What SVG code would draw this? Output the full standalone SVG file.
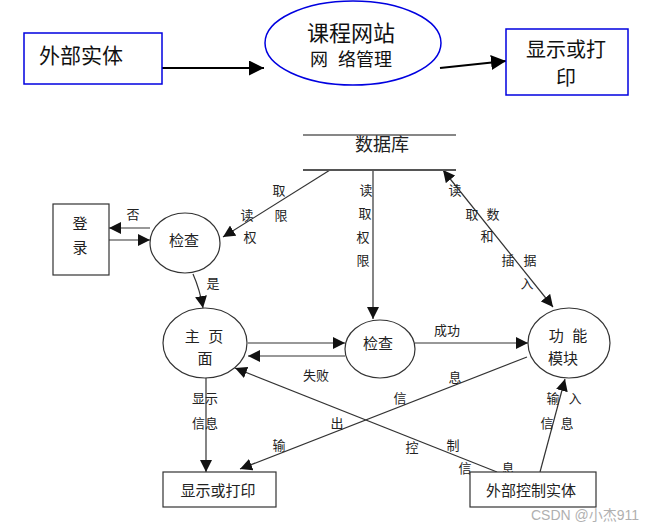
<svg xmlns="http://www.w3.org/2000/svg" width="656" height="532" viewBox="0 0 656 532">
<style>
text{font-family:"Liberation Sans","Noto Sans CJK SC",sans-serif;fill:#222;text-anchor:middle;dominant-baseline:central}
.top{font-size:20px;fill:#111}
.lbl{font-size:13px}
.nd{font-size:15px}
.bx{fill:#fff;stroke:#0000e0;stroke-width:1.5}
.n{fill:#fff;stroke:#333;stroke-width:1.2}
.c{fill:none;stroke:#333;stroke-width:1.2}
.ct{fill:none;stroke:#000;stroke-width:2}
</style>
<defs>
<marker id="ah" viewBox="0 0 10 10" refX="10" refY="5" markerWidth="12" markerHeight="12" markerUnits="userSpaceOnUse" orient="auto-start-reverse"><path d="M0,0L10,5L0,10z" fill="#111"/></marker>
<marker id="ahb" viewBox="0 0 10 10" refX="10" refY="5" markerWidth="15" markerHeight="15" markerUnits="userSpaceOnUse" orient="auto-start-reverse"><path d="M0,0L10,5L0,10z" fill="#000"/></marker>
</defs>
<rect width="656" height="532" fill="#fff"/>
<g id="connectors">
<line class="ct" x1="162" y1="68" x2="264" y2="68" marker-end="url(#ahb)"/>
<line class="ct" x1="440" y1="68" x2="506" y2="61" marker-end="url(#ahb)"/>
<line class="c" x1="150" y1="228" x2="109" y2="228" marker-end="url(#ah)"/>
<line class="c" x1="109" y1="240" x2="150" y2="240" marker-end="url(#ah)"/>
<line class="c" x1="330" y1="170" x2="223" y2="237" marker-end="url(#ah)"/>
<path class="c" d="M193,274 Q200,290 203,308" marker-end="url(#ah)"/>
<line class="c" x1="373" y1="170" x2="373" y2="319" marker-end="url(#ah)"/>
<line class="c" x1="443" y1="170" x2="553" y2="307" marker-start="url(#ah)" marker-end="url(#ah)"/>
<line class="c" x1="248" y1="343" x2="345" y2="343" marker-end="url(#ah)"/>
<line class="c" x1="345" y1="356" x2="248" y2="356" marker-end="url(#ah)"/>
<line class="c" x1="415" y1="343" x2="528" y2="343" marker-end="url(#ah)"/>
<line class="c" x1="206" y1="378" x2="206" y2="472" marker-end="url(#ah)"/>
<line class="c" x1="527" y1="357" x2="240" y2="469" marker-end="url(#ah)"/>
<line class="c" x1="497" y1="472" x2="235" y2="368" marker-end="url(#ah)"/>
<line class="c" x1="540" y1="472" x2="565" y2="379" marker-end="url(#ah)"/>
<text class="lbl" x="133" y="214">否</text>
<text class="lbl" x="279" y="190">取</text>
<text class="lbl" x="247" y="215">读</text>
<text class="lbl" x="281" y="215">限</text>
<text class="lbl" x="250" y="237">权</text>
<text class="lbl" x="213" y="283">是</text>
<text class="lbl" x="366" y="190">读</text>
<text class="lbl" x="365" y="213">取</text>
<text class="lbl" x="363" y="237">权</text>
<text class="lbl" x="363" y="260">限</text>
<text class="lbl" x="455" y="190">读</text>
<text class="lbl" x="472" y="214">取</text>
<text class="lbl" x="493" y="214">数</text>
<text class="lbl" x="487" y="236">和</text>
<text class="lbl" x="508" y="260">插</text>
<text class="lbl" x="530" y="260">据</text>
<text class="lbl" x="527" y="283">入</text>
<text class="lbl" x="447" y="330">成功</text>
<text class="lbl" x="316" y="375">失败</text>
<text class="lbl" x="205" y="398">显示</text>
<text class="lbl" x="205" y="423">信息</text>
<text class="lbl" x="455" y="377">息</text>
<text class="lbl" x="400" y="398">信</text>
<text class="lbl" x="337" y="423">出</text>
<text class="lbl" x="279" y="445">输</text>
<text class="lbl" x="412" y="447">控</text>
<text class="lbl" x="453" y="445">制</text>
<text class="lbl" x="465" y="468">信</text>
<text class="lbl" x="508" y="468">息</text>
<text class="lbl" x="553" y="398">输</text>
<text class="lbl" x="575" y="398">入</text>
<text class="lbl" x="547" y="423">信</text>
<text class="lbl" x="567" y="423">息</text>
</g>
<g id="ext-entity">
<rect class="bx" x="24" y="33" width="138" height="51"/>
<text class="top" x="81" y="55" style="font-size:21px">外部实体</text>
</g>
<g id="course-site">
<ellipse cx="353" cy="43" rx="88" ry="42" fill="#fff" stroke="#0000e0" stroke-width="1.5"/>
<text class="top" x="351" y="33" style="font-size:22px">课程网站</text>
<text class="top" x="351" y="60" style="font-size:18px" xml:space="preserve">网  络管理</text>
</g>
<g id="display-top">
<rect class="bx" x="506" y="29" width="122" height="66"/>
<text class="top" x="566" y="50">显示或打</text>
<text class="top" x="566" y="78">印</text>
</g>
<g id="database">
<line x1="303" y1="135" x2="456" y2="135" stroke="#111" stroke-width="1.2"/>
<line x1="303" y1="170" x2="456" y2="170" stroke="#555" stroke-width="2"/>
<text x="382" y="145" style="font-size:18px">数据库</text>
</g>
<g id="login">
<rect class="n" x="53" y="204" width="56" height="71"/>
<text class="nd" x="80" y="223">登</text>
<text class="nd" x="80" y="247">录</text>
</g>
<g id="check1">
<ellipse class="n" cx="185" cy="243" rx="35" ry="30"/>
<text class="nd" x="184" y="240">检查</text>
</g>
<g id="home">
<ellipse class="n" cx="205" cy="343" rx="42" ry="35"/>
<text class="nd" x="204" y="336" xml:space="preserve">主  页</text>
<text class="nd" x="205" y="358">面</text>
</g>
<g id="check2">
<ellipse class="n" cx="380" cy="349" rx="35" ry="29"/>
<text class="nd" x="378" y="343">检查</text>
</g>
<g id="function">
<ellipse class="n" cx="569" cy="343" rx="41" ry="35"/>
<text class="nd" x="568" y="335" xml:space="preserve">功  能</text>
<text class="nd" x="563" y="358">模块</text>
</g>
<g id="display-bottom">
<rect class="n" x="163" y="472" width="113" height="35"/>
<text class="nd" x="218" y="490">显示或打印</text>
</g>
<g id="ext-control">
<rect class="n" x="470" y="472" width="126" height="35"/>
<text class="nd" x="531" y="490">外部控制实体</text>
</g>
<text x="585" y="515" style="font-size:14px;fill:#b0b0b0">CSDN @小杰911</text>
</svg>
